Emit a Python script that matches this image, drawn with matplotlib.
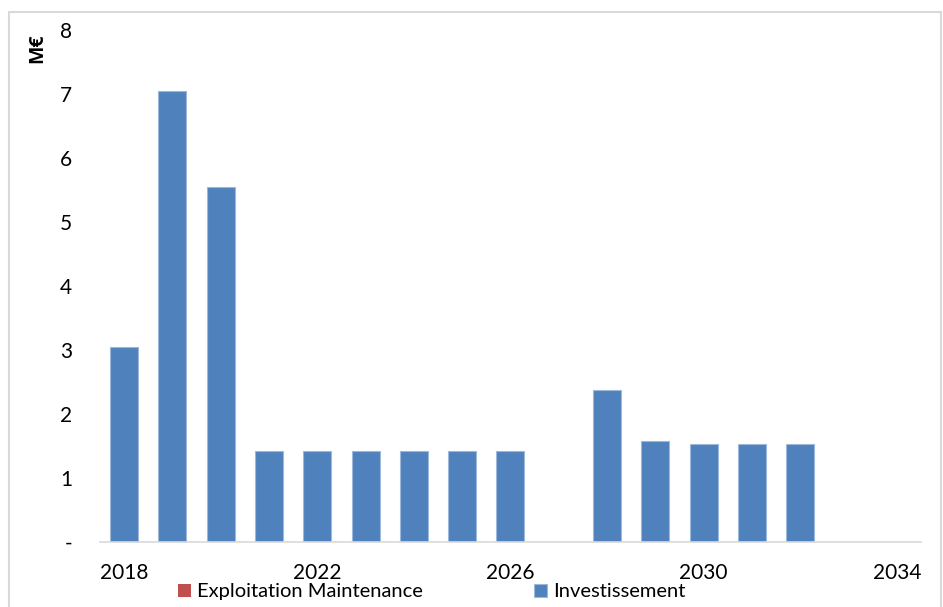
import matplotlib
matplotlib.use("Agg")
import matplotlib.pyplot as plt
from matplotlib.patches import Rectangle

years = list(range(2018, 2035))
investissement = [3.05, 7.05, 5.55, 1.42, 1.42, 1.42, 1.42, 1.42, 1.42,
                  0.0, 2.38, 1.58, 1.53, 1.53, 1.53, 0.0, 0.0]
exploitation = [0.0] * len(years)
xtick_years = [2018, 2022, 2026, 2030, 2034]
ytick_values = [0, 1, 2, 3, 4, 5, 6, 7, 8]
ytick_labels = ["-", "1", "2", "3", "4", "5", "6", "7", "8"]

plt.rcParams["font.family"] = ["Lato", "DejaVu Sans"]

fig = plt.figure(figsize=(9.43, 6.07), dpi=100)
ax = fig.add_axes([0.106, 0.107, 0.8707, 0.8436])

blue = "#4F81BD"
red = "#C0504D"
width = 0.58

ax.bar(years, exploitation, width=width, color=red, label="Exploitation Maintenance")
ax.bar(years, investissement, width=width, bottom=exploitation, color=blue,
       edgecolor="#9db8da", linewidth=0.8, label="Investissement")

ax.set_xlim(years[0] - 0.5, years[-1] + 0.5)
ax.set_ylim(0, 8)
ax.set_xticks(xtick_years)
ax.set_xticklabels([str(y) for y in xtick_years], fontsize=15)
ax.set_yticks(ytick_values)
ax.set_yticklabels(ytick_labels, fontsize=15)
ax.tick_params(axis="both", length=0)
ax.tick_params(axis="x", pad=15)
ax.tick_params(axis="y", pad=20)

for side in ("left", "right", "top"):
    ax.spines[side].set_visible(False)
ax.spines["bottom"].set_color("#d9d9d9")
ax.spines["bottom"].set_linewidth(1.2)

fig.text(0.039, 0.921, "M€", rotation=90, fontsize=14, fontweight="bold",
         family=["Open Sans", "DejaVu Sans"], ha="center", va="center")

fig.legend(loc="center", bbox_to_anchor=(0.4576, 0.025), ncol=2, frameon=False,
           fontsize=14.5, handlelength=0.65, handleheight=0.65, handletextpad=0.3,
           columnspacing=5.5, borderpad=0.0)

# light frame around the chart area
fig.patches.append(Rectangle((0.0095, -0.01), 0.988, 0.99, transform=fig.transFigure,
                             fill=False, edgecolor="#d9d9d9", linewidth=1.5))

fig.savefig("out.png", dpi=100)
